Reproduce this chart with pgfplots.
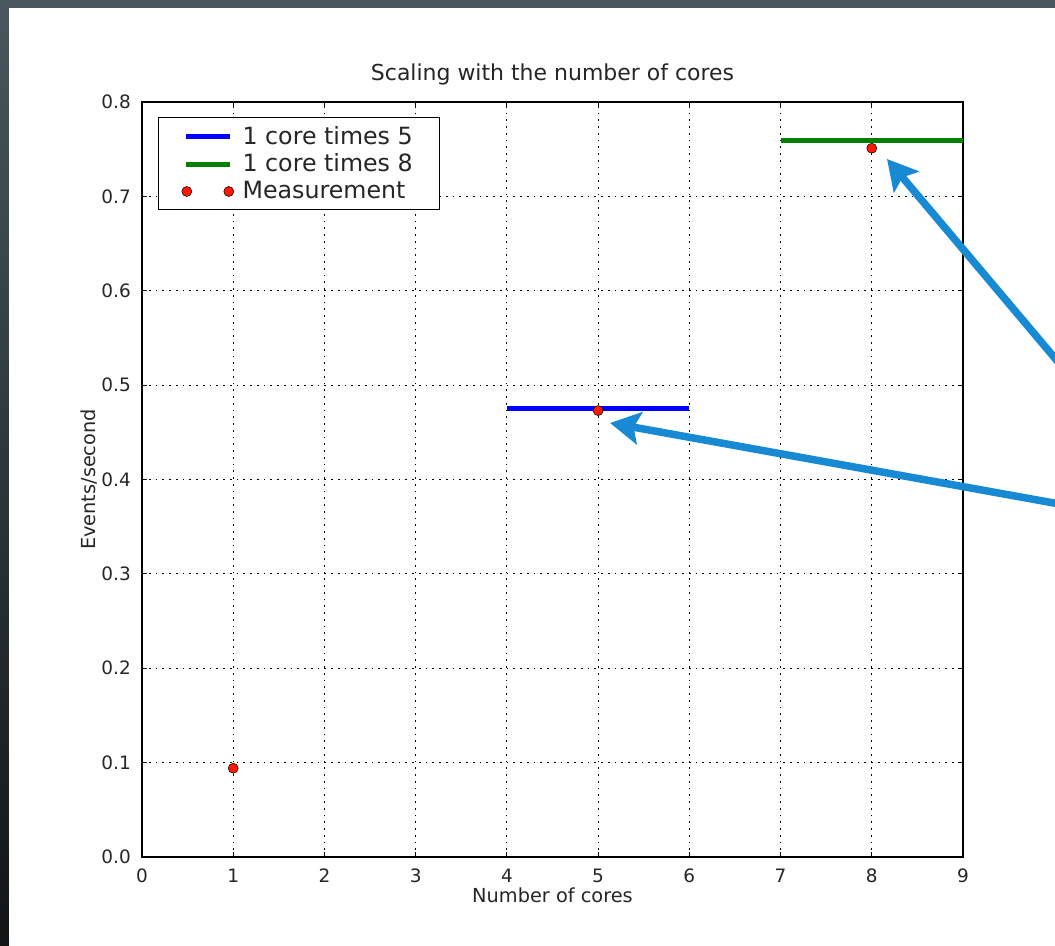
\documentclass[border=0pt]{standalone}
\usepackage{pgfplots}
\pgfplotsset{compat=1.18}
\usepackage{fontspec}
\setmainfont{DejaVu Sans}
\usetikzlibrary{arrows.meta}
\definecolor{mplblue}{rgb}{0,0,1}
\definecolor{mplgreen}{rgb}{0,0.5,0}
\definecolor{mplred}{rgb}{1,0.1,0}
\definecolor{arrowblue}{RGB}{24,138,212}
\definecolor{bgtop}{RGB}{72,88,94}
\definecolor{bgbot}{RGB}{18,20,22}

\begin{document}
\begin{tikzpicture}
% slide background (1px = 0.2mm)
\shade[top color=bgtop, bottom color=bgbot] (0,0) rectangle (211mm,189.2mm);
\fill[white] (1.8mm,0) rectangle (211mm,187.6mm);
\begin{axis}[
  at={(28.4mm,17.8mm)}, anchor=south west,
  scale only axis,
  width=164.2mm, height=151mm,
  xmin=0, xmax=9, ymin=0, ymax=0.8,
  xtick={0,1,2,3,4,5,6,7,8,9},
  ytick={0,0.1,0.2,0.3,0.4,0.5,0.6,0.7,0.8},
  ticklabel style={font=\fontsize{10.5}{12}\selectfont, text=black!85},
  xticklabel style={yshift=-1.1mm},
  yticklabel style={xshift=-1mm, /pgf/number format/.cd, fixed, fixed zerofill, precision=1},
  /pgf/number format/assume math mode=true,
  grid=major,
  major grid style={black, line width=0.5pt, dash pattern=on 0.35mm off 1.0mm},
  tick align=inside,
  major tick length=1mm,
  tick style={black, line width=0.5pt},
  axis line style={line width=0.8pt},
  title={Scaling with the number of cores},
  title style={font=\fontsize{12.5}{15}\selectfont, text=black!85},
  xlabel={Number of cores},
  ylabel={Events/second},
  label style={font=\fontsize{11}{13}\selectfont, text=black!85},
  xlabel style={yshift=1.3mm},
  ylabel style={yshift=-1.5mm},
  legend style={at={(0.0195,0.980)}, anchor=north west, draw=black, line width=0.6pt,
    font=\fontsize{13.5}{15}\selectfont, text=black!85, cells={anchor=west},
    inner xsep=4.6mm, inner ysep=1mm, row sep=0mm,
    /tikz/every odd column/.append style={column sep=1mm}},
  legend image code/.code={\draw[#1, line width=2.8pt] (0mm,0mm) -- (8.8mm,0mm);},
  clip=false,
]
\addplot[mplblue, line width=2.8pt] coordinates {(4,0.475) (6,0.475)};
\addlegendentry{1 core times 5}
\addplot[mplgreen, line width=2.8pt] coordinates {(7,0.759) (9,0.759)};
\addlegendentry{1 core times 8}
\addplot[only marks, mark=*, mark size=1mm, mark options={fill=mplred, draw=black, line width=0.3pt},
  legend image code/.code={\fill[mplred, draw=black, line width=0.3pt] (0.2mm,0) circle (1mm) (8.6mm,0) circle (1mm);}]
  coordinates {(1,0.094) (5,0.473) (8,0.751)};
\addlegendentry{Measurement}
% annotation arrows
\draw[arrowblue, line width=1.5mm, -{Stealth[length=6mm, width=6.5mm, inset=1.2mm]}]
  (axis cs:10.23,0.503) -- (axis cs:8.167,0.7396);
\draw[arrowblue, line width=1.5mm, -{Stealth[length=6mm, width=6.5mm, inset=1.2mm]}]
  (axis cs:10.23,0.371) -- (axis cs:5.13,0.4599);
\end{axis}
\pgfresetboundingbox
\useasboundingbox (0,0) rectangle (211mm,189.2mm);
\end{tikzpicture}
\end{document}
